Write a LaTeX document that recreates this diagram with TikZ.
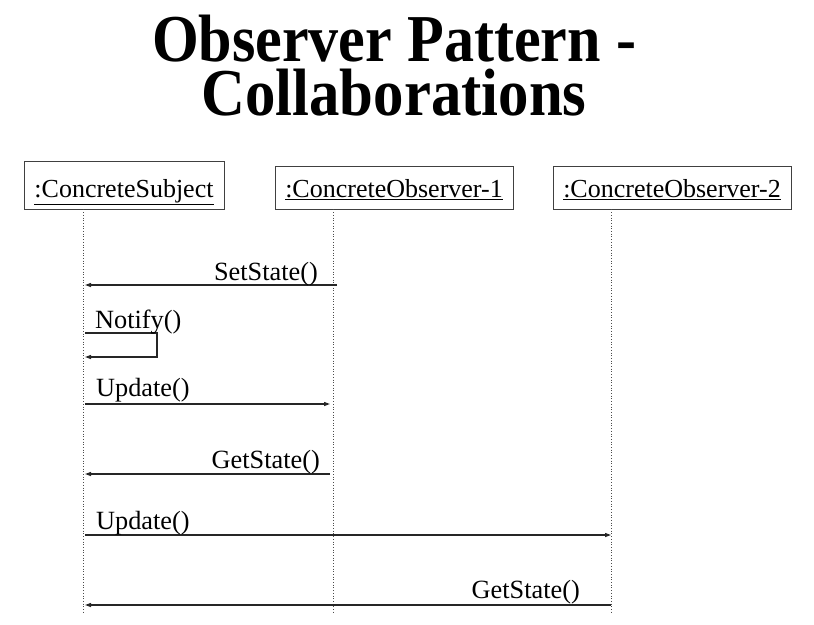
\documentclass[tikz,border=0pt]{standalone}
\usepackage{fontspec}
\setmainfont{Liberation Serif}
\newfontfamily\titlefont{Liberation Serif}
\usetikzlibrary{arrows.meta}
\begin{document}
\begin{tikzpicture}[x=1pt,y=-1pt,
  obj/.style={draw=black!75,line width=0.8pt,inner sep=0pt,text depth=6pt,font=\fontsize{26}{28}\selectfont},
  life/.style={draw=black!70,line width=0.7pt,dotted},
  msg/.style={draw=black!85,line width=1.2pt,-{Triangle[length=6pt,width=4pt]}},
  lbl/.style={inner sep=0pt,font=\fontsize{26.3}{28}\selectfont},
  ttl/.style={inner sep=0pt,align=center,font=\titlefont\bfseries\fontsize{67}{54.5}\selectfont}]
\useasboundingbox (0,0) rectangle (814,624);
% title
\node[ttl,anchor=base] (t) at (394,115.5) {\resizebox{484pt}{\height}{Observer Pattern -}\\\resizebox{385pt}{\height}{Collaborations}};
% objects
\node[obj,text height=30pt,minimum width=200pt,minimum height=48pt] (s) at (124,185) {\underline{:ConcreteSubject}};
\node[obj,text height=25pt,minimum width=238pt,minimum height=43pt] (o1) at (394,187.5) {\underline{:ConcreteObserver-1}};
\node[obj,text height=25pt,minimum width=238pt,minimum height=43pt] (o2) at (672,187.5) {\underline{:ConcreteObserver-2}};
% lifelines
\coordinate (sb) at (83,614);
\coordinate (o1b) at (333,614);
\coordinate (o2b) at (611,614);
\draw[life] (s.south -| sb) -- (sb);
\draw[life] (o1.south -| o1b) -- (o1b);
\draw[life] (o2.south -| o2b) -- (o2b);
% message end points
\coordinate (m1a) at (337,285); \coordinate (m1b) at (85,285);
\coordinate (m2a) at (85,333); \coordinate (m2c) at (157,333); \coordinate (m2d) at (157,357); \coordinate (m2b) at (85,357);
\coordinate (m3a) at (85,404); \coordinate (m3b) at (330,404);
\coordinate (m4a) at (330,474); \coordinate (m4b) at (85,474);
\coordinate (m5a) at (85,535); \coordinate (m5b) at (611,535);
\coordinate (m6a) at (611,605); \coordinate (m6b) at (85,605);
% messages
\draw[msg] (m1a) -- (m1b);
\draw[msg] (m2a) -- (m2c) -- (m2d) -- (m2b);
\draw[msg] (m3a) -- (m3b);
\draw[msg] (m4a) -- (m4b);
\draw[msg] (m5a) -- (m5b);
\draw[msg] (m6a) -- (m6b);
% labels
\node[lbl,anchor=base east] (l1) at (318,280) {SetState()};
\node[lbl,anchor=base west] (l2) at (95,328) {Notify()};
\node[lbl,anchor=base west] (l3) at (96,396) {Update()};
\node[lbl,anchor=base east] (l4) at (320,468) {GetState()};
\node[lbl,anchor=base west] (l5) at (96,529) {Update()};
\node[lbl,anchor=base east] (l6) at (580,598) {GetState()};
\end{tikzpicture}
\end{document}
